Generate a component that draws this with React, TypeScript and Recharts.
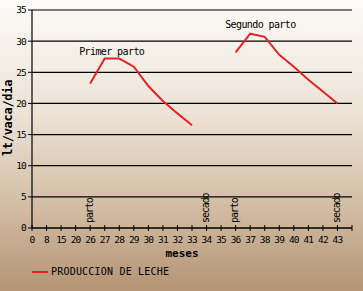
import React from 'react';
import { LineChart, Line, XAxis, YAxis, CartesianGrid, ReferenceDot } from 'recharts';

const monthLabels = ['0', '8', '15', '20', '26', '27', '28', '29', '30', '31', '32', '33', '34', '35', '36', '37', '38', '39', '40', '41', '42', '43', ''];
const firstLactation: (number | null)[] = [null, null, null, null, 23.2, 27.2, 27.2, 25.9, 22.8, 20.4, 18.4, 16.5, null, null, null, null, null, null, null, null, null, null, null];
const secondLactation: (number | null)[] = [null, null, null, null, null, null, null, null, null, null, null, null, null, null, 28.2, 31.2, 30.7, 27.8, 25.9, 23.8, 21.9, 20.0, null];
const yTicks = [0, 5, 10, 15, 20, 25, 30, 35];
const events = [
  { idx: 4, text: 'parto' },
  { idx: 12, text: 'secado' },
  { idx: 14, text: 'parto' },
  { idx: 21, text: 'secado' },
];
const notes = [
  { idx: 5.48, val: 28.4, text: 'Primer parto' },
  { idx: 15.7, val: 32.6, text: 'Segundo parto' },
];

const data = monthLabels.map((m, i) => ({ i, m, a: firstLactation[i], b: secondLactation[i] }));

const FONT = '"DejaVu Sans Mono", monospace';
const RED = '#e02424';

const XTick = (props: any) => {
  const { x, y, payload } = props;
  return (
    <g>
      <line x1={x} x2={x} y1={y - 3} y2={y + 3} stroke="#000" strokeWidth={1} />
      <text x={x} y={y + 15} textAnchor="middle" fontFamily={FONT} fontSize={9.5} letterSpacing={-0.8} fill="#000">
        {monthLabels[payload.value]}
      </text>
    </g>
  );
};

const VLabel = (text: string) => (props: any) => {
  const vb = props.viewBox || {};
  const cx = vb.x + (vb.width || 0) / 2;
  const cy = vb.y + (vb.height || 0) / 2;
  const bx = cx + 2.5;
  const by = cy - 5;
  return (
    <text x={bx} y={by} transform={`rotate(-90 ${bx} ${by})`} textAnchor="start" fontFamily={FONT} fontSize={10} letterSpacing={-1.1} fill="#000">
      {text}
    </text>
  );
};

const NoteLabel = (text: string) => (props: any) => {
  const vb = props.viewBox || {};
  const cx = vb.x + (vb.width || 0) / 2;
  const cy = vb.y + (vb.height || 0) / 2;
  return (
    <text x={cx} y={cy + 3.5} textAnchor="middle" fontFamily={FONT} fontSize={10} letterSpacing={-0.6} fill="#000">
      {text}
    </text>
  );
};

export default function App() {
  return (
    <div
      style={{
        position: 'absolute',
        left: 0,
        top: 0,
        width: 363,
        height: 291,
        background: 'linear-gradient(to bottom, #fdfbf8 0%, #ece2d5 40%, #d3bea5 70%, #b49474 100%)',
      }}
    >
      <LineChart width={363} height={291} data={data} margin={{ top: 10, right: 11, left: 0, bottom: 33 }}>
        <CartesianGrid vertical={false} stroke="#000" strokeWidth={1.2} />
        <XAxis
          dataKey="i"
          type="number"
          domain={[0, 22]}
          ticks={data.map((d) => d.i)}
          interval={0}
          height={30}
          tickSize={0}
          tickMargin={0}
          tickLine={false}
          axisLine={{ stroke: '#000', strokeWidth: 1.2 }}
          tick={<XTick />}
        />
        <YAxis
          type="number"
          domain={[0, 35]}
          ticks={yTicks}
          interval={0}
          width={32}
          tickSize={4}
          tickMargin={2}
          axisLine={{ stroke: '#000', strokeWidth: 1.2 }}
          tickLine={{ stroke: '#000' }}
          tick={{ fontFamily: FONT, fontSize: 9.5, letterSpacing: -0.8, fill: '#000' }}
        />
        <Line dataKey="a" stroke={RED} strokeWidth={2} dot={false} isAnimationActive={false} connectNulls={false} />
        <Line dataKey="b" stroke={RED} strokeWidth={2} dot={false} isAnimationActive={false} connectNulls={false} />
        {events.map((e, k) => (
          <ReferenceDot key={'e' + k} x={e.idx} y={0} r={1} fill="none" stroke="none" label={VLabel(e.text)} />
        ))}
        {notes.map((n, k) => (
          <ReferenceDot key={'n' + k} x={n.idx} y={n.val} r={1} fill="none" stroke="none" label={NoteLabel(n.text)} />
        ))}
      </LineChart>
      <div
        style={{
          position: 'absolute',
          left: 8,
          top: 118,
          transform: 'translate(-50%, -50%) rotate(-90deg)',
          whiteSpace: 'nowrap',
          fontFamily: FONT,
          fontWeight: 'bold',
          fontSize: 12,
          letterSpacing: -0.3,
          lineHeight: '12px',
        }}
      >
        lt/vaca/dia
      </div>
      <div
        style={{
          position: 'absolute',
          left: 182,
          top: 254,
          transform: 'translate(-50%, -50%)',
          fontFamily: FONT,
          fontWeight: 'bold',
          fontSize: 11,
          whiteSpace: 'nowrap',
          lineHeight: '12px',
        }}
      >
        meses
      </div>
      <div style={{ position: 'absolute', left: 32, top: 266, display: 'flex', alignItems: 'center', height: 12 }}>
        <div style={{ width: 16, height: 2, background: RED, marginRight: 3 }} />
        <span style={{ fontFamily: FONT, fontSize: 10, letterSpacing: 0.2, whiteSpace: 'nowrap', lineHeight: '12px' }}>
          PRODUCCION DE LECHE
        </span>
      </div>
    </div>
  );
}
